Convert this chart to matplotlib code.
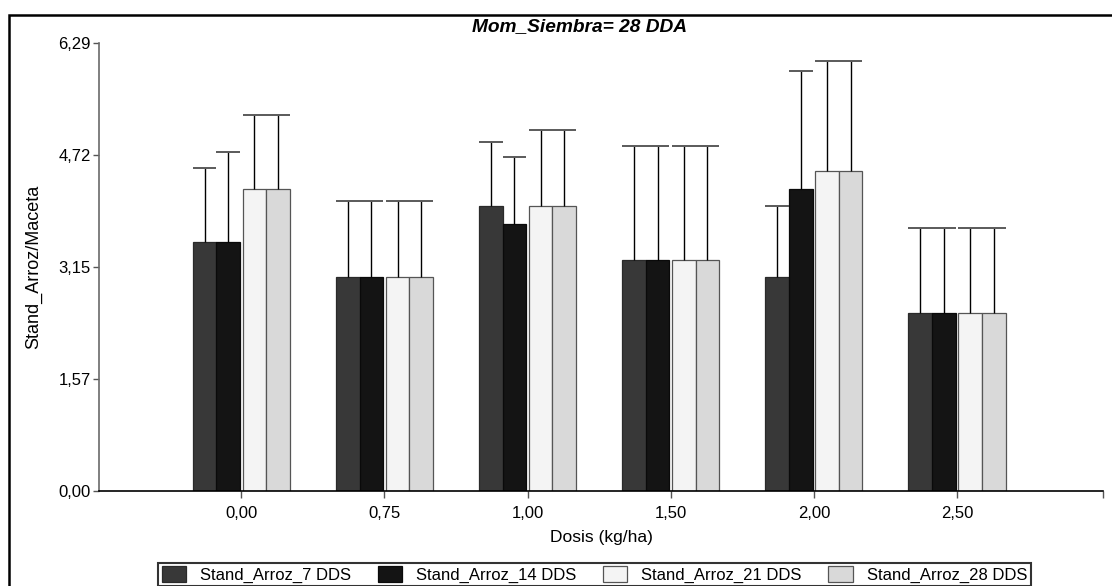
import matplotlib
matplotlib.use("Agg")
import matplotlib.pyplot as plt
from matplotlib.patches import Rectangle
import numpy as np

plt.rcParams['font.family'] = ['Liberation Sans', 'DejaVu Sans']

dosis = ['0,00', '0,75', '1,00', '1,50', '2,00', '2,50']
series = ['Stand_Arroz_7 DDS', 'Stand_Arroz_14 DDS', 'Stand_Arroz_21 DDS', 'Stand_Arroz_28 DDS']
dds_7 = [3.50, 3.00, 4.00, 3.25, 3.00, 2.50]
dds_14 = [3.50, 3.00, 3.75, 3.25, 4.25, 2.50]
dds_21 = [4.25, 3.00, 4.00, 3.25, 4.50, 2.50]
dds_28 = [4.25, 3.00, 4.00, 3.25, 4.50, 2.50]
err_7 = [1.04, 1.08, 0.90, 1.60, 1.01, 1.19]
err_14 = [1.26, 1.08, 0.94, 1.60, 1.65, 1.19]
err_21 = [1.03, 1.08, 1.07, 1.60, 1.54, 1.19]
err_28 = [1.03, 1.08, 1.07, 1.60, 1.54, 1.19]
yticks = [0.0, 1.5725, 3.145, 4.7175, 6.29]
ytick_labels = ['0,00', '1,57', '3,15', '4,72', '6,29']

colores = ['#383838', '#141414', '#f4f4f4', '#d9d9d9']
bordes = ['#2a2a2a', '#0a0a0a', '#555555', '#555555']

fig = plt.figure(figsize=(11.12, 5.86), dpi=100)
W, H = 1112, 586
ax = fig.add_axes([99 / W, 1 - 491 / H, (1103 - 99) / W, (491 - 43.3) / H])

x = np.arange(len(dosis))
w = 0.165
g = 0.018
offsets = [-1.5 * w - g / 2, -0.5 * w - g / 2, 0.5 * w + g / 2, 1.5 * w + g / 2]
medias = [dds_7, dds_14, dds_21, dds_28]
errores = [err_7, err_14, err_21, err_28]

handles = []
for k in range(4):
    xs = x + offsets[k]
    b = ax.bar(xs, medias[k], width=w, color=colores[k], edgecolor=bordes[k],
               linewidth=0.9, zorder=2, label=series[k])
    handles.append(b)
    tops = np.array(medias[k]) + np.array(errores[k])
    # solo la barra de error superior
    ax.vlines(xs, medias[k], tops, color='black', linewidth=1.0, zorder=3)
    ax.hlines(tops, xs - w / 2, xs + w / 2, color='#5a5a5a', linewidth=1.4, zorder=3)

ax.set_ylim(0, 6.29)
ax.set_xlim(-0.994, 6.02)
ax.set_yticks(yticks)
ax.set_yticklabels(ytick_labels, fontsize=12)
ax.set_xticks(x)
ax.set_xticklabels(dosis, fontsize=12)
ax.set_xticks([6.02], minor=True)
ax.tick_params(axis='y', direction='out', length=4, width=1, color='#555555', pad=2)
ax.tick_params(axis='x', which='both', direction='out', length=5, width=1, color='#555555', pad=6)

for s in ['top', 'right']:
    ax.spines[s].set_visible(False)
ax.spines['left'].set_color('#6a6a6a')
ax.spines['left'].set_linewidth(1.2)
ax.spines['bottom'].set_color('black')
ax.spines['bottom'].set_linewidth(1.2)

ax.set_xlabel('Dosis (kg/ha)', fontsize=12.5, labelpad=6)
ax.set_ylabel('Stand_Arroz/Maceta', fontsize=13, labelpad=11.5)

fig.text(579 / W, 1 - 31 / H, 'Mom_Siembra= 28 DDA', fontsize=13.8,
         fontweight='bold', fontstyle='italic', ha='center', va='baseline')

# marco exterior
fig.patches.append(Rectangle((8.5 / W, -0.2), 1.2, 1.2 - 14.5 / H,
                             transform=fig.transFigure, fill=False,
                             edgecolor='black', linewidth=1.8))

leg = fig.legend(handles=handles, loc='upper center', ncol=4,
                 bbox_to_anchor=(594.5 / W, 1 - 563 / H), fontsize=12,
                 frameon=True, fancybox=False, edgecolor='black',
                 handlelength=1.45, handleheight=1.1, handletextpad=0.85,
                 columnspacing=1.6, borderpad=0.2, borderaxespad=0)
leg.get_frame().set_linewidth(1.5)

fig.savefig('out.png', dpi=100)
